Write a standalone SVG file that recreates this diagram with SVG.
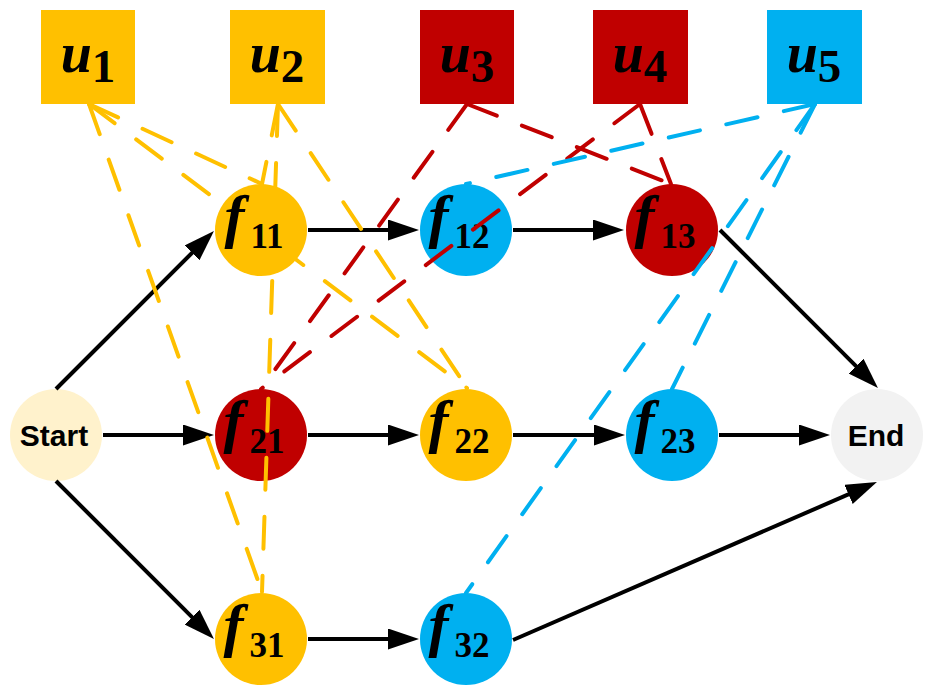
<svg xmlns="http://www.w3.org/2000/svg" width="933" height="694" viewBox="0 0 933 694">
<style>
.yel{fill:#FFC000}
.red{fill:#C00000}
.blu{fill:#00B0F0}
.ut{font-family:"Liberation Serif",serif;font-weight:bold;font-style:italic;font-size:56px;fill:#000}
.us{font-style:normal;font-size:47px}
.ft{font-family:"Liberation Serif",serif;font-weight:bold;font-style:italic;font-size:60px;fill:#000}
.fs{font-style:normal;font-size:35px}
.lbl{font-family:"Liberation Sans",Arial,sans-serif;font-weight:bold;font-size:30px;fill:#000}
.arr{stroke:#000;stroke-width:4;fill:none;marker-end:url(#ah)}
.d{fill:none;stroke-width:4;stroke-dasharray:32 27;stroke-linecap:round}
.dy{stroke:#FFC000}
.dr{stroke:#C00000}
.db{stroke:#00B0F0}
</style>
<defs>
<marker id="ah" markerUnits="userSpaceOnUse" markerWidth="31" markerHeight="21" refX="23" refY="10.5" orient="auto" viewBox="0 0 31 21">
<path d="M0,0 L31,10.5 L0,21 z" fill="#000"/>
</marker>
</defs>
<rect width="933" height="694" fill="#fff"/>

<g id="u1"><rect class="yel" x="41" y="10" width="94" height="94"/><text class="ut" x="88" y="72" text-anchor="middle">u<tspan class="us" dy="10">1</tspan></text></g>
<g id="u2"><rect class="yel" x="230" y="10" width="95" height="94"/><text class="ut" x="277" y="72" text-anchor="middle">u<tspan class="us" dy="10">2</tspan></text></g>
<g id="u3"><rect class="red" x="420" y="10" width="94" height="94"/><text class="ut" x="467" y="72" text-anchor="middle">u<tspan class="us" dy="10">3</tspan></text></g>
<g id="u4"><rect class="red" x="593" y="10" width="95" height="94"/><text class="ut" x="640" y="72" text-anchor="middle">u<tspan class="us" dy="10">4</tspan></text></g>
<g id="u5"><rect class="blu" x="767" y="10" width="95" height="94"/><text class="ut" x="814" y="72" text-anchor="middle">u<tspan class="us" dy="10">5</tspan></text></g>

<g id="start"><circle cx="56" cy="435" r="46" fill="#FFF2CC"/><text class="lbl" x="54" y="446" text-anchor="middle">Start</text></g>
<g id="end"><circle cx="877" cy="435" r="46" fill="#F2F2F2"/><text class="lbl" x="876" y="446" text-anchor="middle">End</text></g>

<g id="f12"><circle class="blu" cx="466" cy="230" r="46"/><text class="ft" x="459" y="236" text-anchor="middle">f<tspan class="fs" dx="6" dy="12">12</tspan></text></g>
<g id="f13"><circle class="red" cx="672" cy="230" r="46"/><text class="ft" x="665" y="236" text-anchor="middle">f<tspan class="fs" dx="6" dy="12">13</tspan></text></g>
<g id="f21"><circle class="red" cx="261" cy="435" r="46"/><text class="ft" x="254" y="441" text-anchor="middle">f<tspan class="fs" dx="6" dy="12">21</tspan></text></g>
<g id="f22"><circle class="yel" cx="466" cy="435" r="46"/><text class="ft" x="459" y="441" text-anchor="middle">f<tspan class="fs" dx="6" dy="12">22</tspan></text></g>
<g id="f23"><circle class="blu" cx="672" cy="435" r="46"/><text class="ft" x="665" y="441" text-anchor="middle">f<tspan class="fs" dx="6" dy="12">23</tspan></text></g>
<g id="f31"><circle class="yel" cx="261" cy="639" r="46"/><text class="ft" x="254" y="645" text-anchor="middle">f<tspan class="fs" dx="6" dy="12">31</tspan></text></g>
<g id="f32"><circle class="blu" cx="466" cy="639" r="46"/><text class="ft" x="459" y="645" text-anchor="middle">f<tspan class="fs" dx="6" dy="12">32</tspan></text></g>

<g id="connectors">
<path class="arr" d="M56,389 L208.3,236.6"/>
<path class="arr" d="M103,435 L206,435"/>
<path class="arr" d="M56,481 L208.3,633.4"/>
<path class="arr" d="M308,230 L411,230"/>
<path class="arr" d="M513,230 L616,230"/>
<path class="arr" d="M308,435 L411,435"/>
<path class="arr" d="M513,435 L617,435"/>
<path class="arr" d="M719,435 L822,435"/>
<path class="arr" d="M308,639 L411,639"/>
<path class="arr" d="M720,230 L872.3,382.3"/>
<path class="arr" d="M513,640 L869.6,485.2"/>

<path class="d dy" d="M89,104 L262,184"/>
<path class="d dy" d="M89,104 L467,388"/>
<path class="d dy" d="M89,104 L262,592"/>
<path class="d dy" d="M278,104 L262,184"/>
<path class="d dy" d="M278,104 L467,388"/>
<path class="d dy" d="M278,104 L262,592"/>

<path class="d dr" d="M467,104 L671,184"/>
<path class="d dr" d="M467,104 L261,389"/>
<path class="d dr" d="M640,104 L671,184"/>
<path class="d dr" d="M640,104 L261,389"/>

<path class="d db" d="M815,104 L466,184"/>
<path class="d db" d="M815,104 L672,389"/>
<path class="d db" d="M815,104 L466,593"/>
</g>

<g id="f11"><circle class="yel" cx="261" cy="230" r="46"/><text class="ft" x="254" y="236" text-anchor="middle">f<tspan class="fs" dx="6" dy="12">11</tspan></text></g>
</svg>
